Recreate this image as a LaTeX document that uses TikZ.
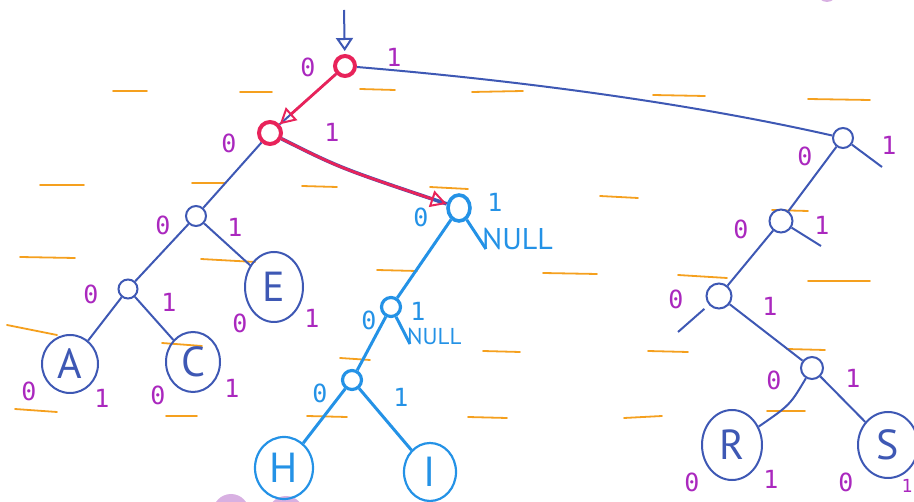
\documentclass[tikz,border=0pt]{standalone}
\usepackage{fontspec}
\setmainfont{PT Sans}
\newfontfamily\monof{DejaVu Sans Mono}
\usetikzlibrary{arrows.meta,shapes.geometric}
\definecolor{ink}{RGB}{62,88,180}
\definecolor{sky}{RGB}{36,146,230}
\definecolor{rosy}{RGB}{232,35,90}
\definecolor{plum}{RGB}{170,40,190}
\definecolor{amber}{RGB}{245,160,30}
\definecolor{lilac}{RGB}{216,176,226}
\tikzset{
  dnode/.style={circle,draw=ink,line width=2pt,inner sep=0pt,fill=white},
  bnode/.style={circle,draw=sky,line width=3.6pt,inner sep=0pt,fill=white},
  rnode/.style={circle,draw=rosy,line width=4pt,inner sep=0pt,fill=white},
  leaf/.style={ellipse,draw=ink,line width=2pt,inner sep=0pt,text=ink,
    font=\fontsize{42}{42}\selectfont},
  bleaf/.style={leaf,draw=sky,text=sky,line width=2.2pt},
  edge/.style={draw=ink,line width=2pt},
  bedge/.style={draw=sky,line width=3pt},
  redarrow/.style={draw=rosy,line width=2.8pt,
    -{Triangle[open,length=16pt,width=17pt,line width=2pt]}},
  lab/.style={text=plum,font=\monof\fontsize{25}{25}\selectfont,inner sep=0pt},
  blab/.style={lab,text=sky},
  nulltext/.style={text=sky,inner sep=0pt},
  oline/.style={draw=amber,line width=1.8pt,line cap=round},
  blob/.style={fill=lilac,draw=none}
}
\begin{document}
\begin{tikzpicture}[x=1pt,y=-1pt]
\useasboundingbox (0,0) rectangle (914,502);
% background blobs
\fill[blob] (231,512) circle (18);
\fill[blob] (286,514) circle (18);
\fill[blob] (827,-8) circle (10);
% orange notebook dashes
\draw[oline] (113,91) -- (147,91);
\draw[oline] (240,92) -- (272,92);
\draw[oline] (360,89) -- (395,90);
\draw[oline] (472,92) -- (523,91);
\draw[oline] (653,95) -- (705,96);
\draw[oline] (808,99) -- (870,100);
\draw[oline] (40,185) -- (84,185);
\draw[oline] (192,183) -- (225,183);
\draw[oline] (302,186) -- (337,187);
\draw[oline] (430,187) -- (468,189);
\draw[oline] (600,196) -- (638,198);
\draw[oline] (772,210) -- (808,211);
\draw[oline] (20,257) -- (75,258);
\draw[oline] (201,259) -- (255,262);
\draw[oline] (377,270) -- (417,271);
\draw[oline] (543,273) -- (597,274);
\draw[oline] (678,275) -- (727,278);
\draw[oline] (808,281) -- (870,281);
\draw[oline] (7,325) -- (57,335);
\draw[oline] (162,343) -- (202,346);
\draw[oline] (340,358) -- (370,360);
\draw[oline] (483,351) -- (520,352);
\draw[oline] (648,351) -- (688,352);
\draw[oline] (787,349) -- (825,350);
\draw[oline] (15,409) -- (57,412);
\draw[oline] (166,416) -- (197,416);
\draw[oline] (307,416) -- (347,417);
\draw[oline] (468,417) -- (507,418);
\draw[oline] (624,418) -- (662,416);
\draw[oline] (767,411) -- (805,411);
% nodes
\coordinate (entry) at (344,10);
\node[rnode,minimum size=20pt] (root) at (345,66) {};
\node[rnode,minimum size=22pt] (n0) at (270,133) {};
\node[dnode,minimum size=20pt] (L1) at (196,216) {};
\node[dnode,minimum size=19pt] (L2) at (128,289) {};
\node[leaf,minimum width=56pt,minimum height=58pt] (A) at (70,364) {A};
\node[leaf,minimum width=54pt,minimum height=60pt] (C) at (193,362) {C};
\node[leaf,minimum width=58pt,minimum height=70pt] (E) at (274,287) {E};
\node[bnode,minimum width=22pt,minimum height=26pt,ellipse] (B) at (459,208) {};
\node[bnode,minimum size=19pt,line width=3.2pt] (C2) at (391,307) {};
\node[bnode,minimum size=19pt,line width=3.2pt] (D) at (352,380) {};
\node[bleaf,minimum width=58pt,minimum height=62pt] (H) at (284,468) {H};
\node[bleaf,minimum width=52pt,minimum height=58pt] (I) at (430,472) {I};
\node[dnode,minimum size=20pt] (R1) at (843,138) {};
\node[dnode,minimum size=23pt] (R2) at (781,221) {};
\node[dnode,minimum size=25pt] (R3) at (719,296) {};
\node[dnode,minimum size=22pt] (R4) at (812,368) {};
\node[leaf,minimum width=60pt,minimum height=70pt] (R) at (732,445) {R};
\node[leaf,minimum width=60pt,minimum height=66pt] (S) at (888,445) {S};
\coordinate (R1s) at (882,167);
\coordinate (R2s) at (821,246);
\coordinate (R3s) at (678,332);
\coordinate (Bs) at (486,249);
\coordinate (C2s) at (410,344);
% edges
\draw[edge,-{Triangle[open,length=13pt,width=17pt]},shorten >=3pt] (entry) -- (root);
\draw[edge] (root) .. controls (560,84) and (720,110) .. (R1);
\draw[edge] (root) -- (n0);
\draw[redarrow] (root) -- (n0);
\draw[edge,line width=3.6pt] (n0) .. controls (340,168) .. (B);
\draw[redarrow] (n0) .. controls (340,168) .. (B);
\draw[edge] (n0) -- (L1);
\draw[edge] (L1) -- (L2);
\draw[edge] (L1) -- (E);
\draw[edge] (L2) -- (A);
\draw[edge] (L2) -- (C);
\draw[bedge] (B) -- (C2);
\draw[bedge] (B) -- (Bs);
\draw[bedge] (C2) -- (D);
\draw[bedge] (C2) -- (C2s);
\draw[bedge] (D) -- (H);
\draw[bedge] (D) -- (I);
\draw[edge] (R1) -- (R2);
\draw[edge] (R1) -- (R1s);
\draw[edge] (R2) -- (R3);
\draw[edge] (R2) -- (R2s);
\draw[edge,shorten <=6pt] (R3) -- (R3s);
\draw[edge] (R3) -- (R4);
\draw[edge] (R4) .. controls (790,405) .. (R);
\draw[edge] (R4) -- (S);
% NULL texts
\node[nulltext,font=\fontsize{30}{30}\selectfont,anchor=south west] (nullB) at (482,250) {NULL};
\node[nulltext,font=\fontsize{23}{23}\selectfont,anchor=south west] (nullC) at (407,345) {NULL};
% labels
\node[lab] (l1) at (308,67) {0};
\node[lab] (l2) at (394,57) {1};
\node[lab] (l3) at (229,143) {0};
\node[lab] (l4) at (332,132) {1};
\node[blab] (l5) at (421,217) {0};
\node[blab] (l6) at (495,202) {1};
\node[blab] (l7) at (369,320) {0};
\node[blab] (l8) at (418,311) {1};
\node[blab] (l9) at (320,393) {0};
\node[blab] (l10) at (401,397) {1};
\node[lab] (l11) at (163,225) {0};
\node[lab] (l12) at (235,227) {1};
\node[lab] (l13) at (91,294) {0};
\node[lab] (l14) at (169,302) {1};
\node[lab] (l15) at (240,323) {0};
\node[lab] (l16) at (312,318) {1};
\node[lab] (l17) at (29,391) {0};
\node[lab] (l18) at (102,398) {1};
\node[lab] (l19) at (158,395) {0};
\node[lab] (l20) at (232,388) {1};
\node[lab] (l21) at (805,156) {0};
\node[lab] (l22) at (889,145) {1};
\node[lab] (l23) at (741,229) {0};
\node[lab] (l24) at (822,225) {1};
\node[lab] (l25) at (676,299) {0};
\node[lab] (l26) at (770,306) {1};
\node[lab] (l27) at (774,380) {0};
\node[lab] (l28) at (853,378) {1};
\node[lab] (l29) at (692,482) {0};
\node[lab] (l30) at (771,479) {1};
\node[lab] (l31) at (846,482) {0};
\node[lab,font=\monof\fontsize{18}{18}\selectfont] (l32) at (907,486) {1};
\end{tikzpicture}
\end{document}
